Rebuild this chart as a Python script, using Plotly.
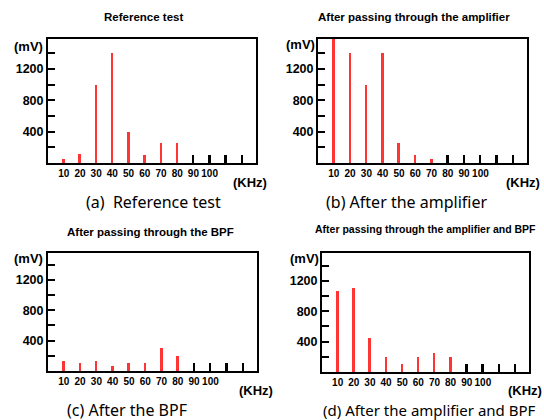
import plotly.graph_objects as go

# ---- data ----
freqs = [10, 20, 30, 40, 50, 60, 70, 80, 90, 100, 110, 120]
tick_labels = ["10", "20", "30", "40", "50", "60", "70", "80", "90", "100"]

ref_test = [55, 115, 1000, 1400, 400, 100, 250, 250]          # (a)
after_amp = [1600, 1400, 1000, 1400, 250, 100, 50]            # (b)
after_bpf = [130, 100, 130, 65, 100, 100, 300, 200]           # (c)
after_amp_bpf = [1060, 1100, 450, 200, 100, 200, 250, 200]    # (d)
marker_level = 100  # black reference markers at the remaining positions

titles = ["Reference test", "After passing through the amplifier",
          "After passing through the BPF", "After passing through the amplifier and BPF"]
captions = ["(a)  Reference test", "(b) After the amplifier",
            "(c) After the BPF", "(d) After the amplifier and BPF"]
y_ticks = [200, 400, 600, 800, 1000, 1200, 1400]
y_ticktext = ["", "400", "", "800", "", "1200", ""]

series = [ref_test, after_amp, after_bpf, after_amp_bpf]

W, H = 544, 420
# panel frames in pixels: (x0, x1, ytop, ybottom)
frames = [(48, 256, 39, 163), (318, 527, 39, 163), (48, 257, 253, 371), (322, 529, 253, 372)]
yranges = [[0, 1580], [0, 1580], [0, 1555], [0, 1565]]
title_pos = [(143, 17, 11.5), (414, 17, 11.5), (150, 232, 11.5), (425, 229, 10.5)]
caption_pos = [(153, 202, 16), (406, 202, 16), (127, 410, 16), (429, 410, 15)]
mv_pos = [(28, 46), (300, 45), (28, 258), (304, 258)]
khz_pos = [(250, 182), (523, 182), (256, 390), (525, 390)]

BOLD = "Liberation Sans, Arial, sans-serif"
RED = "#ff3535"
fig = go.Figure()
layout = dict(width=W, height=H, margin=dict(l=0, r=0, t=0, b=0),
              paper_bgcolor="white", plot_bgcolor="white", showlegend=False,
              bargap=0, annotations=[])

for i, vals in enumerate(series):
    n = i + 1
    xa = "x" if n == 1 else f"x{n}"
    ya = "y" if n == 1 else f"y{n}"
    red_x = freqs[:len(vals)]
    blk_x = freqs[len(vals):]
    fig.add_trace(go.Bar(x=red_x, y=vals, width=1.2, marker=dict(color=RED, line=dict(width=0)),
                         xaxis=xa, yaxis=ya))
    fig.add_trace(go.Bar(x=blk_x, y=[marker_level] * len(blk_x), width=1.2,
                         marker=dict(color="black", line=dict(width=0)), xaxis=xa, yaxis=ya))
    x0, x1, yt, yb = frames[i]
    xkey = "xaxis" if n == 1 else f"xaxis{n}"
    ykey = "yaxis" if n == 1 else f"yaxis{n}"
    layout[xkey] = dict(domain=[x0 / W, x1 / W], anchor=ya, range=[0.3, 128.6],
                        tickmode="array", tickvals=freqs[:10], ticktext=tick_labels,
                        ticks="", showgrid=False, zeroline=False, tickangle=0,
                        showline=True, linecolor="black", linewidth=2, mirror=True,
                        tickfont=dict(family=BOLD, size=10, color="black", weight="bold"))
    layout[ykey] = dict(domain=[1 - yb / H, 1 - yt / H], anchor=xa, range=yranges[i],
                        tickmode="array", tickvals=y_ticks, ticktext=y_ticktext,
                        ticks="inside", ticklen=7, tickwidth=1.5, tickcolor="black",
                        showgrid=False, zeroline=False,
                        showline=True, linecolor="black", linewidth=2, mirror=True,
                        tickfont=dict(family=BOLD, size=12.5, color="black", weight="bold"))
    tx, ty, ts = title_pos[i]
    layout["annotations"].append(dict(text=titles[i], x=tx / W, y=1 - ty / H, xref="paper", yref="paper",
                                      showarrow=False, xanchor="center", yanchor="middle",
                                      font=dict(family=BOLD, size=ts, color="black", weight="bold")))
    cx, cy, cs = caption_pos[i]
    layout["annotations"].append(dict(text=captions[i], x=cx / W, y=1 - cy / H, xref="paper", yref="paper",
                                      showarrow=False, xanchor="center", yanchor="middle",
                                      font=dict(family="Noto Sans, sans-serif", size=cs, color="black")))
    mx, my = mv_pos[i]
    layout["annotations"].append(dict(text="(mV)", x=mx / W, y=1 - my / H, xref="paper", yref="paper",
                                      showarrow=False, xanchor="center", yanchor="middle",
                                      font=dict(family=BOLD, size=13, color="black", weight="bold")))
    kx, ky = khz_pos[i]
    layout["annotations"].append(dict(text="(KHz)", x=kx / W, y=1 - ky / H, xref="paper", yref="paper",
                                      showarrow=False, xanchor="center", yanchor="middle",
                                      font=dict(family=BOLD, size=13, color="black", weight="bold")))

fig.update_layout(**layout)
fig.write_html("out.html", config={"displayModeBar": False},
               post_script="document.body.style.margin='0';document.body.style.overflow='hidden';")
